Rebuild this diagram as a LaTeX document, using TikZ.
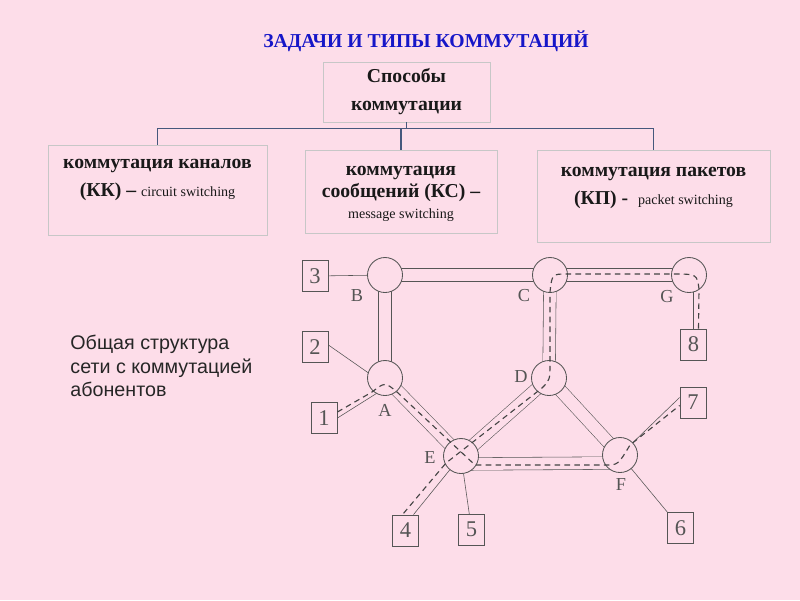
\documentclass[tikz,border=0pt]{standalone}
\usepackage{fontspec}
\setmainfont{Liberation Serif}
\newfontfamily\arialfont{Liberation Sans}
\usetikzlibrary{positioning,calc,backgrounds,shadows}
\definecolor{bgpink}{RGB}{253,221,233}
\definecolor{titleblue}{RGB}{22,22,200}
\definecolor{treeblue}{RGB}{70,88,125}
\definecolor{netgray}{RGB}{85,85,85}

\begin{document}
\begin{tikzpicture}[x=0.025cm, y=-0.025cm, line width=0.6pt,
  sw node/.style={circle,draw=netgray,fill=bgpink,minimum size=0.875cm,inner sep=0pt},
  term node/.style={rectangle,draw=netgray,fill=bgpink,minimum width=0.65cm,minimum height=0.775cm,inner sep=0pt,text=netgray,font=\fontsize{16}{18}\selectfont},
  lbl/.style={inner sep=0pt,text=netgray,font=\fontsize{13}{15}\selectfont},
  tube/.style={draw=netgray,double=bgpink,double distance=0.3cm},
  wire/.style={draw=netgray},
  path line/.style={draw=netgray!80!black,dash pattern=on 4pt off 3pt,line width=0.8pt},
  box node/.style={rectangle,draw=black!22,fill=bgpink,inner sep=0pt,drop shadow={shadow xshift=0.8pt,shadow yshift=-0.8pt,opacity=0.35,fill=black}},
  box text/.style={inner sep=0pt,align=center,text=black!90,font=\bfseries\fontsize{14}{20}\selectfont},
  tree line/.style={draw=treeblue,line width=1.1pt}]
\useasboundingbox (0,0) rectangle (800,600);
\begin{scope}[on background layer]
\fill[bgpink] (0,0) rectangle (800,600);
\end{scope}

% title
\node[text=titleblue,font=\bfseries\fontsize{14}{16}\selectfont] (title) at (426,41) {ЗАДАЧИ И ТИПЫ КОММУТАЦИЙ};

% hierarchy
\node[box node,box text,minimum width=4.175cm,minimum height=1.5cm] (sposoby) at (406.5,92) {Способы\\коммутации};
\node[box node,minimum width=5.475cm,minimum height=2.25cm] (kk) at (157.5,190) {};
\node[box node,minimum width=4.8cm,minimum height=2.075cm] (ks) at (401,191.5) {};
\node[box node,minimum width=5.825cm,minimum height=2.3cm] (kp) at (653.5,196) {};
\node[box text,below=0.35cm of kk.north] (kktext) {коммутация каналов\\(КК) – {\mdseries\fontsize{10}{11}\selectfont circuit switching}};
\node[box text,below=0.4cm of ks.north,font=\bfseries\fontsize{14}{15.5}\selectfont] (kstext) {коммутация\\сообщений (КС) –\\{\mdseries\fontsize{10}{11}\selectfont message switching}};
\node[box text,below=0.42cm of kp.north] (kptext) {коммутация пакетов\\(КП) - \ {\mdseries\fontsize{10}{11}\selectfont packet switching}};
\coordinate (hub) at ([yshift=-0.15cm]sposoby.south);
\draw[tree line] (sposoby.south) -- (hub) -| (kk.north);
\draw[tree line] (hub) -| (ks.north);
\draw[tree line] (hub) -| (kp.north);

% caption
\node[anchor=north west,inner sep=0pt,align=left,text=black!85,font=\arialfont\fontsize{14}{16.7}\selectfont] (desc) at (70,335) {Общая структура\\сети с коммутацией\\абонентов};

% switching nodes
\node[sw node] (B) at (385,275) {};
\node[sw node] (C) at (550,275) {};
\node[sw node] (G) at (689,275) {};
\node[sw node] (A) at (385,378) {};
\node[sw node] (D) at (549,378) {};
\node[sw node] (E) at (461,456) {};
\node[sw node] (F) at (620,455) {};
\node[lbl] (lB) at (357,296) {B};
\node[lbl] (lC) at (524,296) {C};
\node[lbl] (lG) at (667,297) {G};
\node[lbl] (lA) at (385,410) {A};
\node[lbl] (lD) at (521,377) {D};
\node[lbl] (lE) at (430,458) {E};
\node[lbl] (lF) at (621,485) {F};

% subscribers
\node[term node] (t1) at (324,418) {1};
\node[term node] (t2) at (315,347) {2};
\node[term node] (t3) at (315,276) {3};
\node[term node] (t4) at (405.5,530.5) {4};
\node[term node] (t5) at (471.5,529.5) {5};
\node[term node] (t6) at (680.5,528) {6};
\node[term node] (t7) at (693,402.5) {7};
\node[term node] (t8) at (693.5,344.5) {8};

% channels
\begin{scope}[on background layer]
\draw[tube] (B.center) -- (C.center);
\draw[tube] (C.center) -- (G.center);
\draw[tube] (B.center) -- (A.center);
\draw[tube] (C.center) -- (D.center);
\draw[tube] (A.center) -- (E.center);
\draw[tube] (D.center) -- (E.center);
\draw[tube] (D.center) -- (F.center);
\draw[tube] ([shift={(0,8)}]E.center) -- ([shift={(0,8)}]F.center);
\draw[wire] (t3.center) -- (B.center);
\draw[wire] ([shift={(0,-2)}]t2.east) -- ([shift={(-5,3)}]A.center);
\draw[wire] (t1.east) -- ([shift={(-3,12)}]A.center);
\draw[wire] ([shift={(8,0)}]t4.north) -- (E.center);
\draw[wire] (E.center) -- (t5.center);
\draw[wire] (F.center) -- (t6.center);
\draw[wire] ([shift={(0,-5)}]t7.west) -- (F.center);
\draw[wire] (t8.north) -- (t8.north |- G.center);
\end{scope}

% connections
\draw[path line] ([shift={(5,0)}]t8.north) -- ([shift={(10,14)}]G.center)
  .. controls ([shift={(8,-1)}]G.center) .. ([shift={(-17,-1)}]G.center)
  -- ([shift={(17,-1)}]C.center)
  .. controls ([shift={(2,-1)}]C.center) .. ([shift={(0,17)}]C.center)
  -- ([shift={(1,-16)}]D.center)
  .. controls ([shift={(1,2)}]D.center) .. ([shift={(-7,10)}]D.center)
  -- ([shift={(-15,7)}]E.center) -- ([shift={(-3,0)}]t4.north);
\draw[path line] ([shift={(0,-6)}]t1.east) -- ([shift={(-13,14)}]A.center)
  .. controls ([shift={(0,4)}]A.center) .. ([shift={(12,14)}]A.center)
  -- ([shift={(14,9)}]E.center) -- ([shift={(-15,10)}]F.center)
  .. controls ([shift={(-2,10)}]F.center) .. ([shift={(10,-10)}]F.center)
  -- ([shift={(0,3)}]t7.west);
\end{tikzpicture}
\end{document}
